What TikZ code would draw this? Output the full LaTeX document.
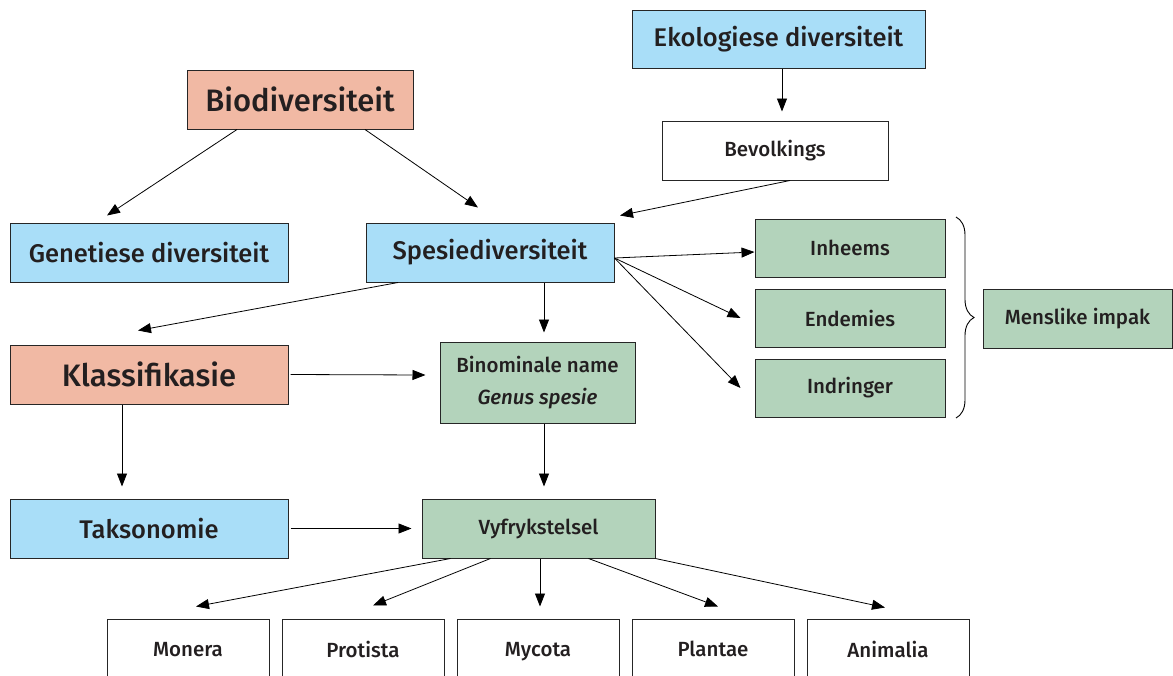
\documentclass[tikz,border=0pt]{standalone}
\usepackage{fontspec}
\setmainfont{Fira Sans}[UprightFont=* Medium, ItalicFont=* Medium Italic, BoldFont=* SemiBold]
\usetikzlibrary{arrows.meta,decorations.pathreplacing}
\definecolor{bluefill}{HTML}{A9DEF8}
\definecolor{salmonfill}{HTML}{F1B9A4}
\definecolor{greenfill}{HTML}{B3D3BB}
\definecolor{txt}{HTML}{231F20}
\begin{document}
\begin{tikzpicture}[x=1pt,y=-1pt,
  box/.style={draw=black!85, line width=1pt, inner sep=0pt, text=txt, align=center},
  blue/.style={box, fill=bluefill},
  salmon/.style={box, fill=salmonfill},
  green/.style={box, fill=greenfill},
  white/.style={box, fill=white},
  big/.style={font=\fontsize{31}{36}\selectfont},
  mid/.style={font=\fontsize{25.5}{30}\selectfont},
  small/.style={font=\fontsize{20.5}{24}\selectfont},
  arr/.style={-{Triangle[length=13pt,width=10pt]}, line width=0.8pt, black}
]
\useasboundingbox (0,0) rectangle (1173,675);

\node[blue, mid, minimum width=293, minimum height=58] (eko) at (778.5,39) {Ekologiese diversiteit};
\node[salmon, big, minimum width=226, minimum height=59] (bio) at (300,99.5) {Biodiversiteit};
\node[white, small, minimum width=226, minimum height=59] (bev) at (775,150.5) {Bevolkings};
\node[blue, mid, minimum width=278, minimum height=59] (gen) at (149,252.5) {Genetiese diversiteit};
\node[blue, mid, minimum width=248, minimum height=59] (spe) at (490,252.5) {Spesiediversiteit};
\node[green, small, minimum width=190, minimum height=58] (inh) at (850,248) {Inheems};
\node[green, small, minimum width=190, minimum height=58] (end) at (850,318) {Endemies};
\node[green, small, minimum width=190, minimum height=58] (ind) at (850,388) {Indringer};
\node[green, small, minimum width=189, minimum height=59] (men) at (1077.5,318.5) {Menslike impak};
\node[salmon, big, minimum width=278, minimum height=59] (kla) at (149,374.5) {Klassifikasie};
\node[green, font=\fontsize{20.5}{32}\selectfont, minimum width=195, minimum height=81] (bin) at (537.5,382.5) {Binominale name\\\textit{Genus spesie}};
\node[blue, mid, minimum width=278, minimum height=59] (tak) at (149,528.5) {Taksonomie};
\node[green, small, minimum width=233, minimum height=59] (vyf) at (538.5,528.5) {Vyfrykstelsel};

% five kingdoms, running off the lower edge
\foreach \n/\t/\x in {mon/Monera/188, pro/Protista/363, myc/Mycota/538, pla/Plantae/713, ani/Animalia/888}
  \node[white, small, minimum width=162, minimum height=72, text depth=12pt] (\n) at (\x,655) {\t};

% connectors
\draw[arr] ([xshift=-63pt]bio.south) -- ([xshift=-42pt,yshift=7pt]gen.north);
\draw[arr] ([xshift=65pt]bio.south) -- ([xshift=-12pt,yshift=15pt]spe.north);
\draw[arr] (eko.south -| 782,0) -- ([yshift=9pt]bev.north -| 782,0);
\draw[arr] ([xshift=15pt]bev.south) -- ([xshift=130pt,yshift=7pt]spe.north);
\draw[arr] ([xshift=-92pt]spe.south) -- ([xshift=-11pt,yshift=14pt]kla.north);
\draw[arr] (spe.south -| 544,0) -- ([yshift=9pt]bin.north -| 544,0);
\coordinate (fan) at ([yshift=-5.5pt]spe.east);
\draw[arr] (fan) -- ([yshift=-4pt]inh.west);
\draw[arr] (fan) -- ([xshift=-14pt]end.west);
\draw[arr] (fan) -- ([xshift=-14pt]ind.west);
\draw[arr] ([xshift=2pt]kla.east) -- ([xshift=-14pt,yshift=7.5pt]bin.west);
\draw[arr] (kla.south -| 122,0) -- ([yshift=12pt]tak.north -| 122,0);
\draw[arr] (bin.south -| 544,0) -- ([yshift=12pt]vyf.north -| 544,0);
\draw[arr] ([xshift=2pt]tak.east) -- ([xshift=-10pt]vyf.west);
\draw[arr] ([xshift=-88pt]vyf.south) -- ([xshift=8pt,yshift=12pt]mon.north);
\draw[arr] ([xshift=-48pt]vyf.south) -- ([xshift=10pt,yshift=13pt]pro.north);
\draw[arr] (vyf.south -| 540,0) -- ([yshift=12pt]myc.north -| 540,0);
\draw[arr] ([xshift=50pt]vyf.south) -- ([xshift=5pt,yshift=12pt]pla.north);
\draw[arr] (vyf.south east) -- ([xshift=-3pt,yshift=11pt]ani.north);

% brace gathering the three kinds of impact
\draw[line width=0.9pt, decorate, decoration={brace, amplitude=18pt}] (956,217) -- (956,418);
\end{tikzpicture}
\end{document}
